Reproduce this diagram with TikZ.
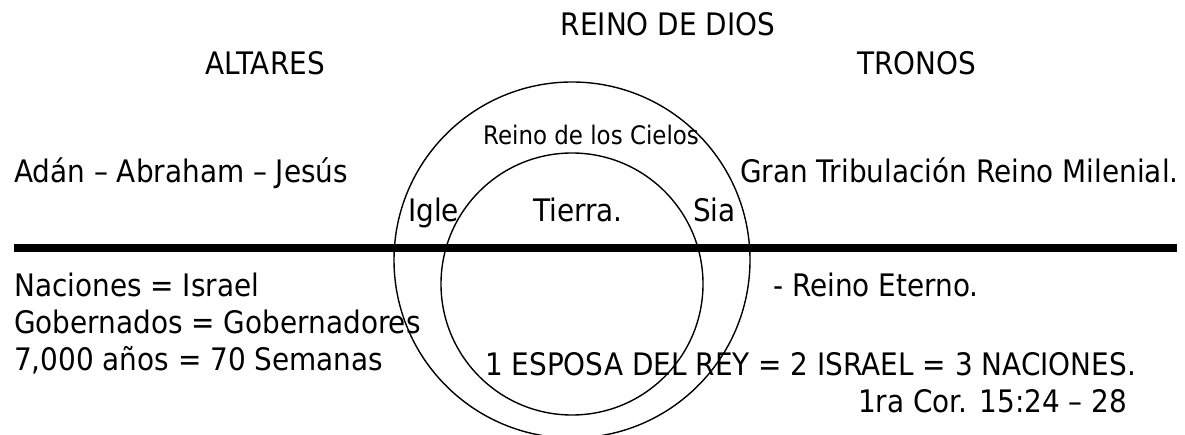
\documentclass[tikz,border=0pt]{standalone}
\usepackage{fontspec}
\setmainfont{DejaVu Sans}[FakeStretch=0.9]
\usepackage{tikz}
\usetikzlibrary{positioning}
\tikzstyle{txt} = [inner sep=0pt, anchor=base west, font=\fontsize{31}{37}\selectfont]
\tikzstyle{title} = [txt, anchor=base]
\tikzstyle{small} = [inner sep=0pt, anchor=base, font=\fontsize{25.5}{30}\selectfont]
\tikzstyle{ring} = [circle, draw, line width=1.4pt, inner sep=0pt]
\tikzstyle{line} = [draw, line width=7.5pt]

\begin{document}
\begin{tikzpicture}[x=1pt, y=-1pt, node distance=36.5pt]
    \useasboundingbox (0,0) rectangle (1185,435);
    \node [ring, minimum size=356pt] (cielos) at (572,260) {};
    \node [ring, minimum size=262pt] (tierra) at (572,284) {};
    \node [title] (reino) at (668,36) {REINO DE DIOS};
    \node [title] (altares) at (265,75) {ALTARES};
    \node [title] (tronos) at (917,75) {TRONOS};
    \node [txt] (adan) at (14,183) {Adán – Abraham – Jesús};
    \node [txt] (gran) at (740,183) {Gran Tribulación Reino Milenial.};
    \node [small] (cielosTxt) at (591,145) {Reino de los Cielos};
    \node [txt] (igle) at (408,222) {Igle};
    \node [txt] (tierraTxt) at (533,222) {Tierra.};
    \node [txt] (sia) at (693,222) {Sia};
    \coordinate (lineL) at (14,248);
    \coordinate (lineR) at (1177,248);
    \path [line] (lineL) -- (lineR);
    \node [txt] (naciones) at (14,297) {Naciones = Israel};
    \node [txt, below=of naciones.base west, anchor=base west] (gobernados) {Gobernados = Gobernadores};
    \node [txt, below=of gobernados.base west, anchor=base west] (anios) {7,000 años = 70 Semanas};
    \node [txt] (eterno) at (773,297) {- Reino Eterno.};
    \node [txt] (esposa) at (485,375) {1 ESPOSA DEL REY = 2 ISRAEL = 3 NACIONES.};
    \node [txt] (cor) at (858,412) {1ra Cor. 15:24 – 28};
\end{tikzpicture}
\end{document}
